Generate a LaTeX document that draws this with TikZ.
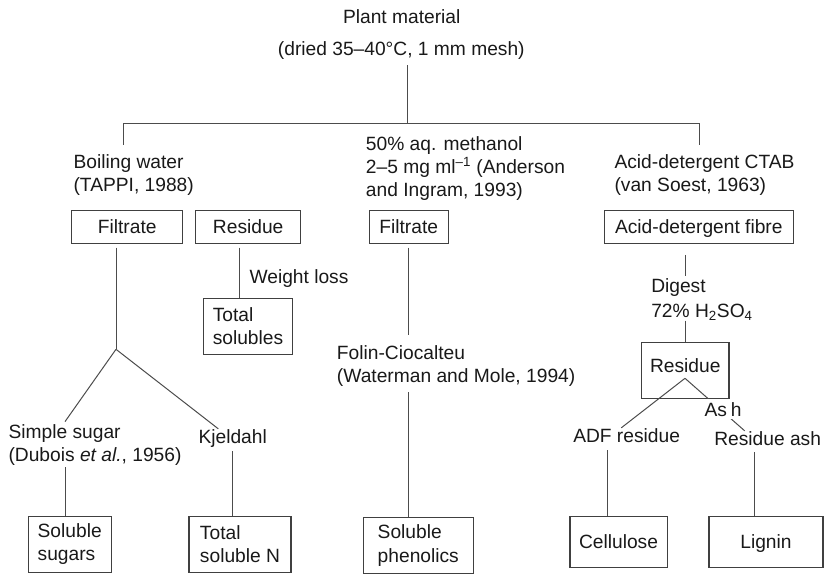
\documentclass[tikz,border=0pt]{standalone}
\usepackage{fontspec}
\setmainfont{Liberation Sans}
\usetikzlibrary{calc}

\begin{document}
\begin{tikzpicture}[x=0.75pt,y=-0.75pt,
	font=\fontsize{14.4}{17.3}\selectfont,
	txt/.style={inner sep=0pt,align=left,text=black!90},
	onebox/.style={draw=black!75,line width=0.8pt,inner sep=0pt,text height=10.4pt,text depth=0pt,minimum height=25pt,text=black!90},
	twobox/.style={draw=black!75,line width=0.8pt,inner sep=0pt,align=left,minimum height=42pt,text=black!90},
	link/.style={draw=black!70,line width=0.75pt}]

	\useasboundingbox (0,0) rectangle (826,575);

	% Top
	\node[txt,anchor=base] (plant) at (401.7,23.3) {Plant material};
	\node[txt,anchor=base] (dried) at (401.3,55) {(dried 35--40°C, 1 mm mesh)};
	\coordinate (hub) at (407.7,123.3);
	\coordinate (barL) at (123.3,123.3);
	\coordinate (barR) at (699.3,123.3);

	% Extractions
	\node[txt,anchor=north west] (boil) at (73.3,154.6) {Boiling water\\(TAPPI, 1988)};
	\node[txt,anchor=north west] (meth) at (365.7,136.2) {50\% aq. methanol\\2--5 mg ml\textsuperscript{--1} (Anderson\\and Ingram, 1993)};
	\node[txt,anchor=north west] (ctab) at (614.3,154.6) {Acid-detergent CTAB\\(van Soest, 1963)};

	\draw[link,shorten <=4.5pt] (hub |- dried.south) -- (hub);
	\draw[link,shorten <=7.5pt,shorten >=7.5pt] (barL |- boil.north) -- (barL) -- (barR) -- (barR |- ctab.north);

	% First boxes
	\node[onebox,minimum width=83.3pt] (filtL) at (127.2,227) {Filtrate};
	\node[onebox,minimum width=78.8pt] (resL) at (248.2,227) {Residue};
	\node[onebox,minimum width=59pt] (filtM) at (408.7,227) {Filtrate};
	\node[onebox,minimum width=141.8pt] (adf) at (698.8,227) {Acid-detergent fibre};

	% Boiling water branch
	\coordinate (fork) at (116,349.3);
	\coordinate (sugx) at (65,0);
	\coordinate (resx) at (239.3,0);
	\node[txt,anchor=base west] (wloss) at (249.3,283.7) {Weight loss};
	\node[twobox,minimum width=67pt] (totsol) at (248,326.3) {Total\\solubles};
	\node[txt,anchor=north west] (simple) at (8.3,424.3) {Simple sugar\\(Dubois \textit{et al.}, 1956)};
	\node[txt,anchor=base west] (kjel) at (198.3,443) {Kjeldahl};
	\node[twobox,minimum width=62pt] (sugars) at (69.7,544.3) {Soluble\\sugars};
	\node[twobox,minimum width=76.5pt] (totN) at (240,544.3) {Total\\soluble N};

	\draw[link,shorten <=2.5pt] (fork |- filtL.south) -- (fork);
	\draw[link] (fork) -- ([yshift=2pt]sugx |- simple.north);
	\draw[link] (fork) -- ([xshift=15pt]kjel.north west);
	\draw[link,shorten <=2.5pt] (resx |- resL.south) -- (resx |- totsol.north);
	\draw[link,shorten <=1pt] (sugx |- simple.south) -- (sugx |- sugars.north);
	\draw[link,shorten <=3pt] (kjel.south) -- (kjel.south |- totN.north);

	% Methanol branch
	\node[txt,anchor=north west] (folin) at (336.7,345) {Folin-Ciocalteu\\(Waterman and Mole, 1994)};
	\node[twobox,minimum width=82.5pt] (phen) at (418.3,545.5) {Soluble\\phenolics};

	\draw[link,shorten <=2.5pt,shorten >=7.5pt] (filtM.south) -- (filtM.south |- folin.north);
	\draw[link,shorten <=4.5pt] (filtM.south |- folin.south) -- (filtM.south |- phen.north);

	% Acid-detergent branch
	\coordinate (adfx) at (685,0);
	\coordinate (cellx) at (607.4,0);
	\coordinate (ligx) at (754,0);
	\node[txt,anchor=north west] (digest) at (651,278.3) {Digest\\[1.5pt]72\% H\textsubscript{2}SO\textsubscript{4}};
	\node[onebox,minimum width=65.5pt,minimum height=42.2pt,text depth=7pt] (resR) at (685.3,370.2) {Residue};
	\coordinate (apex) at (685,378.3);
	\node[txt,anchor=base west] (adfres) at (573,442) {ADF residue};
	\node[txt,anchor=base west] (resash) at (714,445) {Residue ash};
	\node[onebox,minimum width=72.8pt,minimum height=38.3pt] (cell) at (618.5,542) {Cellulose};
	\node[onebox,minimum width=85.5pt,minimum height=38.3pt] (lig) at (766,542) {Lignin};

	\draw[link,shorten <=8pt,shorten >=2pt] (adfx |- adf.south) -- (adfx |- digest.north);
	\draw[link] (adfx |- digest.south) -- (adfx |- resR.north);
	\draw[link] (apex) -- ([xshift=-4pt]adfres.north);
	\draw[link] (apex) -- ([xshift=23pt]resash.north west);
	\node[txt,fill=white,inner sep=2pt,anchor=base west] (ash) at (701.7,416) {As\hspace{0.2em}h};
	\draw[link,shorten <=6pt] (cellx |- adfres.south) -- (cellx |- cell.north);
	\draw[link,shorten <=5pt] (ligx |- resash.south) -- (ligx |- lig.north);
\end{tikzpicture}
\end{document}
